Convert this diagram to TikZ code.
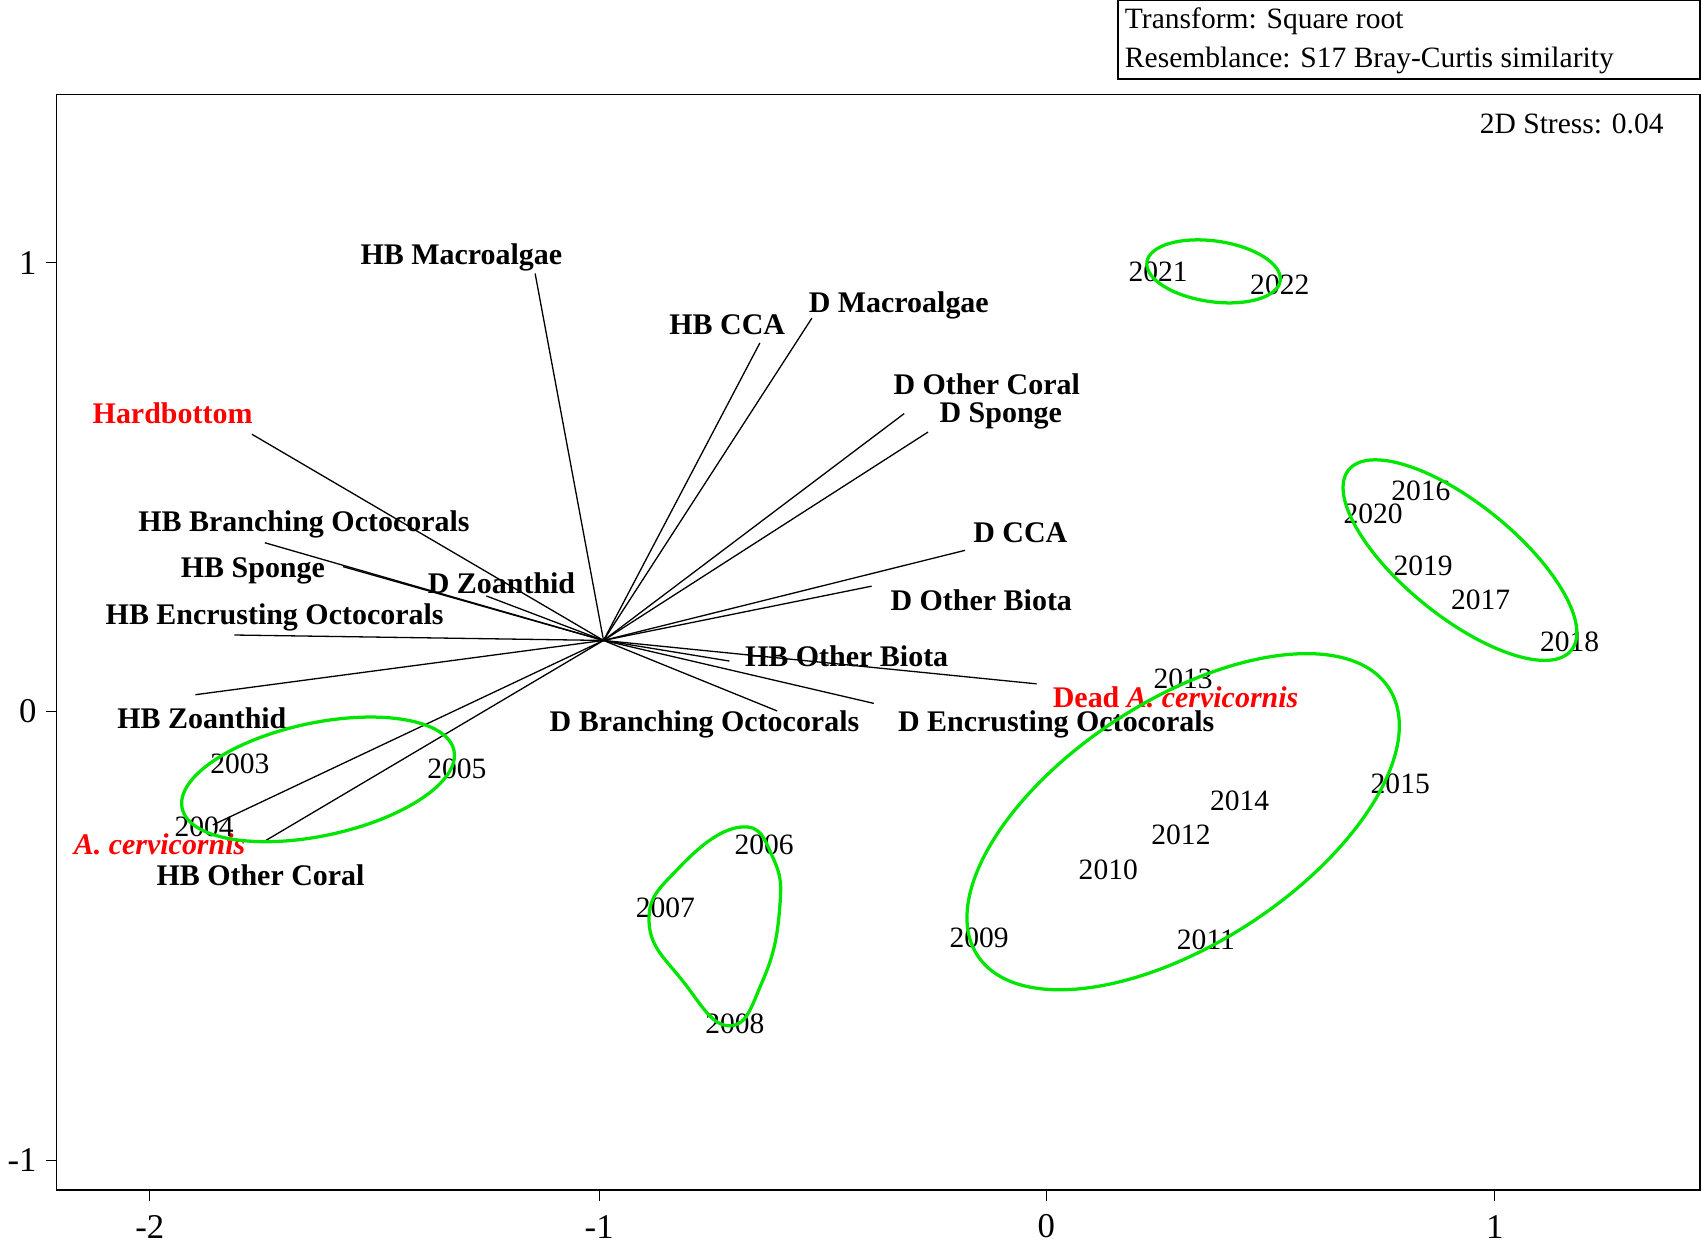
\documentclass[tikz,border=0pt]{standalone}
\usepackage{fontspec}
\setmainfont{Liberation Serif}
\begin{document}
\begin{tikzpicture}[x=0.5pt,y=-0.5pt,
 vec/.style={line width=0.6pt},
 lab/.style={font=\fontsize{13.8}{15}\selectfont\bfseries,inner sep=0pt},
 red/.style={text={rgb,255:red,255;green,0;blue,0}},
 yr/.style={font=\fontsize{13.6}{15}\selectfont,inner sep=0pt},
 grp/.style={draw={rgb,255:red,0;green,230;blue,0},line width=1.5pt},
 tk/.style={font=\fontsize{16}{18}\selectfont,inner sep=0pt}]
\useasboundingbox (0,0) rectangle (1568,1148);
\draw[line width=0.8pt] (52,87) rectangle (1566,1096);
\draw[line width=0.8pt] (1030,0) rectangle (1566,73);
\node[yr,anchor=west] at (1036,20) {Transform: Square root};
\node[yr,anchor=west] at (1036,56) {Resemblance: S17 Bray-Curtis similarity};
\node[yr,anchor=east] at (1533,114) {2D Stress: 0.04};
\foreach \x/\t in {138/-2,552/-1,964/0,1377/1}{
 \draw (\x,1096)--(\x,1106); \node[tk] at (\x,1130) {\t};}
\foreach \y/\t in {242/1,655/0,1069/-1}{
 \draw (52,\y)--(42,\y); \node[tk,anchor=east] at (34,\y) {\t};}
\coordinate (o) at (556,590);
\foreach \p in {(493,252),(700,316),(748,293),(833,381),(855,398),(889,507),(803,540),(672,609),(955,630),(805,648),(716,655),(232,400),(244,500),(316,522),(448,549),(216,585),(180,640),(196,760),(242,776)}
 \draw[vec] (o)--\p;
\node[lab] at (425,237) {HB Macroalgae};
\node[lab] at (670,299) {HB CCA};
\node[lab] at (828,281) {D Macroalgae};
\node[lab] at (909,354) {D Other Coral};
\node[lab] at (922,383) {D Sponge};
\node[lab] at (940,491) {D CCA};
\node[lab] at (904,553) {D Other Biota};
\node[lab] at (780,605) {HB Other Biota};
\node[lab,red] at (1083,642) {Dead \textit{A. cervicornis}};
\node[lab] at (973,667) {D Encrusting Octocorals};
\node[lab] at (649,667) {D Branching Octocorals};
\node[lab,red] at (159,381) {Hardbottom};
\node[lab] at (280,483) {HB Branching Octocorals};
\node[lab] at (233,526) {HB Sponge};
\node[lab] at (462,537) {D Zoanthid};
\node[lab] at (253,569) {HB Encrusting Octocorals};
\node[lab] at (186,662) {HB Zoanthid};
\node[lab,red] at (147,778) {\textit{A. cervicornis}};
\node[lab] at (240,806) {HB Other Coral};
\foreach \x/\y/\t in {1067/250/2021,1179/262/2022,1309/452/2016,1265/473/2020,1311/521/2019,1364/553/2017,1446/591/2018,1090/625/2013,1290/722/2015,1142/738/2014,1088/769/2012,1021/801/2010,902/864/2009,1111/866/2011,221/704/2003,421/708/2005,188/762/2004,704/778/2006,613/836/2007,677/943/2008}
 \node[yr] at (\x,\y) {\t};
\draw[grp,rotate around={-8:(1118,250)}] (1118,250) ellipse [x radius=62,y radius=28];
\draw[grp,rotate around={-39:(1345,516)}] (1345,516) ellipse [x radius=132,y radius=52];
\draw[grp,rotate around={33:(1090,757)}] (1090,757) ellipse [x radius=226,y radius=112];
\draw[grp,rotate around={12:(293,718)}] (293,718) ellipse [x radius=128,y radius=52];
\draw[grp] plot[smooth cycle,tension=0.8] coordinates {(682,762) (712,790) (718,840) (702,905) (672,945) (630,905) (598,850) (625,800)};
\end{tikzpicture}
\end{document}
